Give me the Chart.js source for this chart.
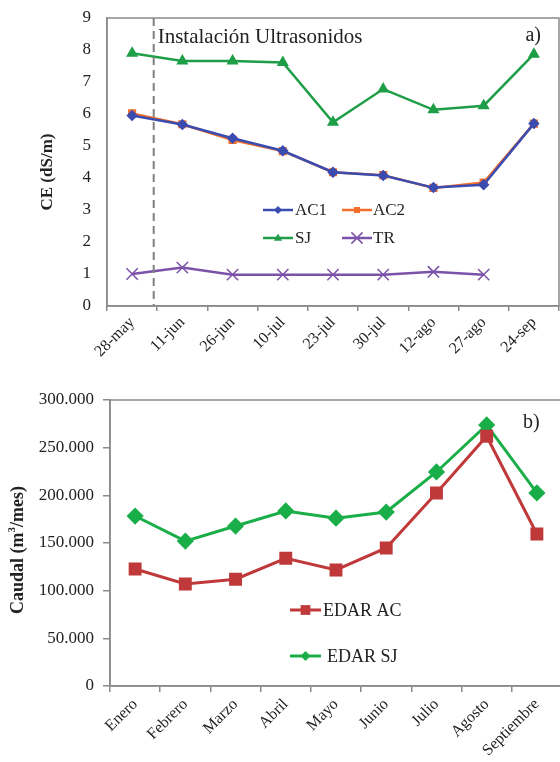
<!DOCTYPE html>
<html lang="es">
<head>
    <meta charset="UTF-8">
    <title>CE y Caudal</title>
    <style>
        body {
            margin: 0;
            background: #ffffff;
            width: 560px;
            height: 762px;
            overflow: hidden;
            position: relative;
        }
        #wrapA {
            position: absolute;
            left: 0;
            top: 0;
            width: 560px;
            height: 380px;
        }
        #wrapB {
            position: absolute;
            left: 0;
            top: 380px;
            width: 566px;
            height: 382px;
        }
    </style>
</head>
<body>
    <div id="wrapA"><canvas id="chartA" width="560" height="380"></canvas></div>
    <div id="wrapB"><canvas id="chartB" width="566" height="382"></canvas></div>

    <script src="https://cdn.jsdelivr.net/npm/chart.js"></script>
    <script>
        // Panel a) - conductividad electrica
        const fechas = ['28-may', '11-jun', '26-jun', '10-jul', '23-jul', '30-jul', '12-ago', '27-ago', '24-sep'];
        const ac1 = [5.95, 5.67, 5.24, 4.85, 4.18, 4.08, 3.70, 3.79, 5.70];
        const ac2 = [6.02, 5.68, 5.19, 4.84, 4.18, 4.09, 3.69, 3.86, 5.70];
        const sj = [7.90, 7.66, 7.66, 7.61, 5.74, 6.78, 6.13, 6.26, 7.87];
        const tr = [1.0, 1.2, 0.98, 0.98, 0.98, 0.98, 1.07, 0.98, null];
        const ceTicks = [0, 1, 2, 3, 4, 5, 6, 7, 8, 9];
        const instalacion = 0.43; // entre 28-may y 11-jun

        // Panel b) - caudal mensual
        const meses = ['Enero', 'Febrero', 'Marzo', 'Abril', 'Mayo', 'Junio', 'Julio', 'Agosto', 'Septiembre'];
        const edarAC = [122700, 107000, 112000, 134000, 121700, 144800, 202500, 262000, 159400];
        const edarSJ = [178300, 152000, 167800, 183600, 176000, 182500, 224500, 273800, 202500];
        const caudalTicks = [0, 50000, 100000, 150000, 200000, 250000, 300000];

        const serif = '"Liberation Serif", "Times New Roman", serif';
        const axisGray = '#8a8a8a';

        function fmtMiles(v) {
            return String(v).replace(/\B(?=(\d{3})+(?!\d))/g, '.');
        }

        function drawMarker(ctx, style, x, y, r, color) {
            ctx.save();
            ctx.fillStyle = color;
            ctx.strokeStyle = color;
            ctx.lineWidth = 1.5;
            ctx.beginPath();
            if (style === 'rectRot') {
                ctx.moveTo(x, y - r); ctx.lineTo(x + r, y); ctx.lineTo(x, y + r); ctx.lineTo(x - r, y);
                ctx.closePath(); ctx.fill();
            } else if (style === 'rect') {
                ctx.rect(x - r * 0.75, y - r * 0.75, r * 1.5, r * 1.5); ctx.fill();
            } else if (style === 'triangle') {
                ctx.moveTo(x, y - r); ctx.lineTo(x + r * 0.9, y + r * 0.6); ctx.lineTo(x - r * 0.9, y + r * 0.6);
                ctx.closePath(); ctx.fill();
            } else if (style === 'crossRot') {
                ctx.moveTo(x - r * 0.7, y - r * 0.7); ctx.lineTo(x + r * 0.7, y + r * 0.7);
                ctx.moveTo(x + r * 0.7, y - r * 0.7); ctx.lineTo(x - r * 0.7, y + r * 0.7);
                ctx.stroke();
            }
            ctx.restore();
        }

        // legend drawn inside the plot, Excel style (line with marker in the middle)
        function legendPlugin(items, fontSize) {
            return {
                id: 'insideLegend',
                afterDraw(chart) {
                    const ctx = chart.ctx;
                    items.forEach(it => {
                        const ds = chart.data.datasets[it.index];
                        ctx.save();
                        ctx.strokeStyle = ds.borderColor;
                        ctx.lineWidth = ds.borderWidth;
                        ctx.beginPath();
                        ctx.moveTo(it.x, it.y);
                        ctx.lineTo(it.x + it.len, it.y);
                        ctx.stroke();
                        ctx.restore();
                        drawMarker(ctx, ds.pointStyle, it.x + it.len / 2, it.y, it.r, ds.borderColor);
                        ctx.save();
                        ctx.fillStyle = '#222';
                        ctx.font = fontSize + 'px ' + serif;
                        ctx.textBaseline = 'middle';
                        ctx.fillText(ds.label, it.tx, it.y + 1);
                        ctx.restore();
                    });
                }
            };
        }

        function boxPlugin(yTitle, yTitleX, yShift) {
            return {
                id: 'boxAndTitle',
                afterDraw(chart) {
                    const ctx = chart.ctx;
                    const a = chart.chartArea;
                    ctx.save();
                    ctx.strokeStyle = axisGray;
                    ctx.lineWidth = 1.5;
                    ctx.strokeRect(a.left, a.top, a.right - a.left, a.bottom - a.top);
                    ctx.restore();
                    ctx.save();
                    ctx.translate(yTitleX, (a.top + a.bottom) / 2 + yShift);
                    ctx.rotate(-Math.PI / 2);
                    ctx.fillStyle = '#222';
                    ctx.textAlign = 'center';
                    ctx.textBaseline = 'middle';
                    yTitle(ctx);
                    ctx.restore();
                }
            };
        }

        // keep the tick labels from shrinking the plot
        function fitX(h) {
            return s => {
                s.height = h;
                s.paddingLeft = 0;
                s.paddingRight = 0;
            };
        }
        function fitY(w) {
            return s => {
                s.width = w;
                s.paddingTop = 0;
                s.paddingBottom = 0;
            };
        }

        // ---------- Chart a ----------
        const annotA = {
            id: 'annotA',
            afterDatasetsDraw(chart) {
                const ctx = chart.ctx;
                const a = chart.chartArea;
                const xs = chart.scales.x;
                const x0 = xs.getPixelForValue(0);
                const x1 = xs.getPixelForValue(1);
                const xi = x0 + instalacion * (x1 - x0);
                ctx.save();
                ctx.strokeStyle = '#7f7f7f';
                ctx.lineWidth = 2;
                ctx.setLineDash([8, 5]);
                ctx.beginPath();
                ctx.moveTo(xi, a.top);
                ctx.lineTo(xi, a.bottom);
                ctx.stroke();
                ctx.setLineDash([]);
                ctx.fillStyle = '#222';
                ctx.font = '21px ' + serif;
                ctx.textBaseline = 'middle';
                ctx.fillText('Instalación Ultrasonidos', xi + 4, a.top + 19);
                ctx.font = '20px ' + serif;
                ctx.textAlign = 'right';
                ctx.fillText('a)', a.right - 18, a.top + 18);
                ctx.restore();
            }
        };

        new Chart(document.getElementById('chartA'), {
            type: 'line',
            data: {
                labels: fechas,
                datasets: [
                    { label: 'AC1', data: ac1, borderColor: '#3b4cb0', backgroundColor: '#3b4cb0', borderWidth: 2.5, pointStyle: 'rectRot', pointRadius: 4 },
                    { label: 'AC2', data: ac2, borderColor: '#f36d2c', backgroundColor: '#f36d2c', borderWidth: 2.5, pointStyle: 'rect', pointRadius: 4 },
                    { label: 'SJ', data: sj, borderColor: '#1f9e48', backgroundColor: '#1f9e48', borderWidth: 2.5, pointStyle: 'triangle', pointRadius: 4.5 },
                    { label: 'TR', data: tr, borderColor: '#7b52aa', backgroundColor: '#7b52aa', borderWidth: 2.5, pointStyle: 'crossRot', pointRadius: 8, pointBorderWidth: 1.5 }
                ]
            },
            options: {
                responsive: false,
                animation: false,
                layout: { autoPadding: false, padding: { top: 18, right: 1, left: 0, bottom: 0 } },
                plugins: { legend: { display: false }, tooltip: { enabled: false } },
                elements: { line: { tension: 0 } },
                scales: {
                    x: {
                        offset: true,
                        afterFit: fitX(74),
                        border: { color: axisGray, width: 1.5 },
                        grid: { offset: true, drawOnChartArea: false, drawTicks: true, tickLength: 5, color: axisGray, lineWidth: 1.5 },
                        ticks: { color: '#222', font: { family: serif, size: 16 }, minRotation: 45, maxRotation: 45, padding: 2 }
                    },
                    y: {
                        min: 0,
                        max: 9,
                        afterFit: fitY(107),
                        afterBuildTicks(s) { s.ticks = ceTicks.map(v => ({ value: v })); },
                        border: { color: axisGray, width: 1.5 },
                        grid: { display: false, drawTicks: false },
                        ticks: { color: '#222', font: { family: serif, size: 17 }, padding: 16 }
                    }
                }
            },
            plugins: [
                annotA,
                boxPlugin(ctx => {
                    ctx.font = 'bold 17px ' + serif;
                    ctx.fillText('CE (dS/m)', 0, 0);
                }, 48, 10),
                legendPlugin([
                    { index: 0, x: 263, y: 210, len: 30, r: 4, tx: 295 },
                    { index: 1, x: 342, y: 210, len: 30, r: 4, tx: 373 },
                    { index: 2, x: 263, y: 238, len: 30, r: 4.5, tx: 295 },
                    { index: 3, x: 342, y: 238, len: 30, r: 8, tx: 373 }
                ], 17)
            ]
        });

        // ---------- Chart b ----------
        const annotB = {
            id: 'annotB',
            afterDraw(chart) {
                const ctx = chart.ctx;
                const a = chart.chartArea;
                ctx.save();
                ctx.fillStyle = '#222';
                ctx.font = '20px ' + serif;
                ctx.textBaseline = 'middle';
                ctx.fillText('b)', 523, a.top + 23);
                ctx.restore();
            }
        };

        new Chart(document.getElementById('chartB'), {
            type: 'line',
            data: {
                labels: meses,
                datasets: [
                    { label: 'EDAR AC', data: edarAC, borderColor: '#c0393a', backgroundColor: '#c0393a', borderWidth: 3, pointStyle: 'rect', pointRadius: 7 },
                    { label: 'EDAR SJ', data: edarSJ, borderColor: '#1aae48', backgroundColor: '#1aae48', borderWidth: 3, pointStyle: 'rectRot', pointRadius: 6.5 }
                ]
            },
            options: {
                responsive: false,
                animation: false,
                layout: { autoPadding: false, padding: { top: 20, right: 4, left: 0, bottom: 0 } },
                plugins: { legend: { display: false }, tooltip: { enabled: false } },
                elements: { line: { tension: 0 } },
                scales: {
                    x: {
                        offset: true,
                        afterFit: fitX(76),
                        border: { color: axisGray, width: 1.5 },
                        grid: { offset: true, drawOnChartArea: false, drawTicks: true, tickLength: 6, color: axisGray, lineWidth: 1.5 },
                        ticks: { color: '#222', font: { family: serif, size: 16 }, minRotation: 45, maxRotation: 45, padding: 3 }
                    },
                    y: {
                        min: 0,
                        max: 300000,
                        afterFit: fitY(110),
                        afterBuildTicks(s) { s.ticks = caudalTicks.map(v => ({ value: v })); },
                        border: { color: axisGray, width: 1.5 },
                        grid: { drawOnChartArea: false, drawTicks: true, tickLength: 7, color: axisGray, lineWidth: 1.5 },
                        ticks: { color: '#222', font: { family: serif, size: 17 }, padding: 9, callback: v => fmtMiles(v) }
                    }
                }
            },
            plugins: [
                annotB,
                boxPlugin(ctx => {
                    // "Caudal (m³/mes)" with superscript 3
                    const big = 'bold 18px ' + serif;
                    const small = 'bold 11px ' + serif;
                    ctx.font = big;
                    const p1 = 'Caudal (m', p2 = '/mes)';
                    const w1 = ctx.measureText(p1).width;
                    const w3 = ctx.measureText(p2).width;
                    ctx.font = small;
                    const w2 = ctx.measureText('3').width;
                    const total = w1 + w2 + w3;
                    ctx.textAlign = 'left';
                    let x = -total / 2;
                    ctx.font = big;
                    ctx.fillText(p1, x, 0);
                    x += w1;
                    ctx.font = small;
                    ctx.fillText('3', x, -6);
                    x += w2;
                    ctx.font = big;
                    ctx.fillText(p2, x, 0);
                }, 18, 7),
                legendPlugin([
                    { index: 0, x: 290, y: 230, len: 31, r: 6.5, tx: 323 },
                    { index: 1, x: 290, y: 276, len: 31, r: 5, tx: 327 }
                ], 18)
            ]
        });
    </script>
</body>
</html>
